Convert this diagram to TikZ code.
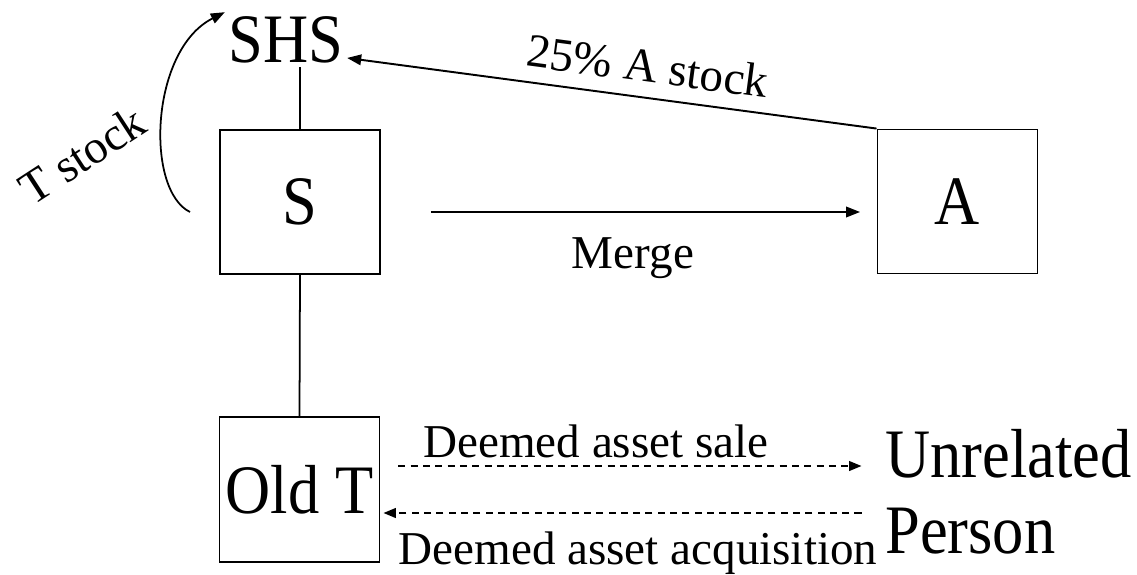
\documentclass[tikz,border=0pt]{standalone}
\usepackage{fontspec}
\setmainfont{Liberation Serif}
\newfontfamily\tallserif[FakeStretch=0.9]{Liberation Serif}
\usepackage{tikz}
\usetikzlibrary{arrows.meta,positioning,calc}
\newcommand{\bigfont}{\tallserif\fontsize{39.5}{44}\selectfont}
\newcommand{\smallfont}{\fontsize{26.8}{30}\selectfont}

\begin{document}
\begin{tikzpicture}[
  x=0.02cm, y=-0.02cm,
  entity/.style={draw, line width=1.1pt, minimum width=3.2cm, minimum height=2.88cm, inner sep=0pt, font=\bigfont},
  party/.style={font=\bigfont, inner sep=2pt},
  note/.style={font=\smallfont, inner sep=2pt},
  arrow/.style={-{Triangle[length=8pt,width=6pt]}, line width=1.1pt},
  revarrow/.style={{Triangle[length=8pt,width=6pt]}-, line width=1.1pt},
  dasharrow/.style={-{Triangle[length=7pt,width=5.5pt]}, line width=1pt, dash pattern=on 4pt off 3pt}
]
  \useasboundingbox (0,0) rectangle (1137,575);

  % Corporations
  \node[entity] (s) at (300,202) {S};
  \node[entity] (a) at (957.5,201.5) {A};
  \node[entity, minimum height=2.9cm] (oldt) at (299.5,489.5) {Old T};

  % Shareholders and buyer
  \node[party, anchor=base] (shs) at (286,62) {SHS};
  \node[party, anchor=base west] (unrel) at (881.5,477) {Unrelated};
  \node[party, anchor=base west] (person) at (881.5,553) {Person};

  % Ownership lines
  \draw[line width=1.1pt] (s.north) -- (s.north |- shs.south);
  \draw[line width=1pt] (s.south) -- (oldt.north);

  % Merger
  \draw[arrow, shorten <=1cm, shorten >=0.33cm] ([yshift=-0.2cm]s.east) -- ([yshift=-0.2cm]s.east -| a.west);
  \node[note, anchor=base] (merge) at (633,268) {Merge};

  % Consideration
  \draw[revarrow] (shs.mid east) -- node[note, sloped, above=6pt, pos=0.56] (astock) {25\% A stock} (a.north west);

  % T stock to SHS
  \coordinate (tfrom) at (190,212);
  \draw[arrow, line width=1pt] (tfrom) .. controls (145,190) and (150,50) .. (shs.north west);
  \node[note, rotate=33] (tstock) at (82,155) {T stock};

  % Deemed sale and acquisition
  \draw[dasharrow, shorten <=0.36cm, shorten >=0.4cm] ([yshift=0.47cm]oldt.east) -- ([yshift=0.47cm]oldt.east -| unrel.west);
  \node[note, anchor=base west] (sale) at (419.5,457) {Deemed asset sale};
  \draw[dasharrow, shorten <=0.4cm, shorten >=0.06cm] ([yshift=-0.47cm]oldt.east -| person.west) -- ([yshift=-0.47cm]oldt.east);
  \node[note, anchor=base] (acq) at (638,564) {Deemed asset acquisition};
\end{tikzpicture}
\end{document}
